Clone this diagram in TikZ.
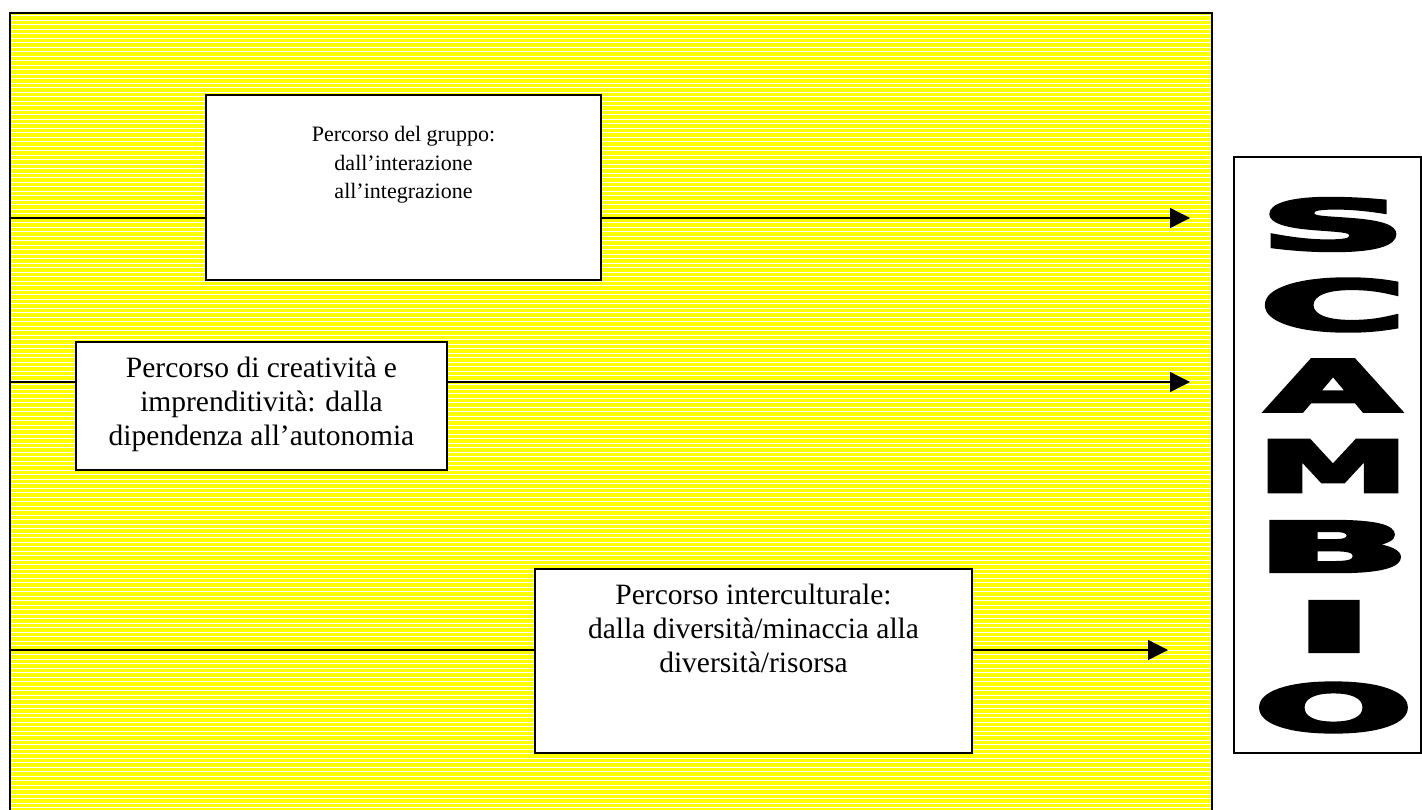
\documentclass[tikz,border=0pt]{standalone}
\usepackage{fontspec}
\usepackage{graphicx}
\setmainfont{Liberation Serif}
\newfontfamily\heavyfont[FakeBold=5]{DejaVu Sans Bold}
\usetikzlibrary{arrows.meta}
\definecolor{bgyellow}{RGB}{255,255,0}
\tikzset{
  framebox/.style={draw=black, line width=1.6pt, fill=white, inner sep=0pt},
  pathbox/.style={draw=black, line width=1.6pt, fill=white, inner sep=0pt},
  pathtext/.style={inner sep=0pt, align=center, anchor=north},
  bigtext/.style={font=\fontsize{29.5}{34}\selectfont},
  smalltext/.style={font=\fontsize{22}{28.5}\selectfont},
  flowarrow/.style={draw=black, line width=1.3pt, -{Triangle[length=20pt,width=20pt]}},
  letter/.style={inner sep=0pt}
}
\begin{document}
\begin{tikzpicture}[x=1pt,y=-1pt]
\useasboundingbox (0,0) rectangle (1422,809);
% striped yellow background
\fill[bgyellow] (10,13) rectangle (1212,812);
\foreach \i in {0,...,176} {
  \draw[white, line width=0.9pt] (11,15.5+4.5*\i) -- (1211,15.5+4.5*\i);
}
\draw[line width=2pt] (10,815) -- (10,13) -- (1212,13) -- (1212,815);
% arrow end points
\coordinate (s1) at (10,218);
\coordinate (e1) at (1190,218);
\coordinate (s2) at (10,382);
\coordinate (e2) at (1190,382);
\coordinate (s3) at (10,650);
\coordinate (e3) at (1168,650);
\draw[flowarrow] (s1) -- (e1);
\draw[flowarrow] (s2) -- (e2);
\draw[flowarrow] (s3) -- (e3);
% boxes
\node[pathbox, minimum width=395pt, minimum height=185pt] (b1) at (403.5,187.5) {};
\node[pathbox, minimum width=371pt, minimum height=128pt] (b2) at (261.5,406) {};
\node[pathbox, minimum width=437pt, minimum height=184pt] (b3) at (753.5,661) {};
\node[pathtext, smalltext] (t1) at ([yshift=-32pt]b1.north) {Percorso del gruppo:\\dall’interazione\\all’integrazione};
\node[pathtext, bigtext] (t2) at ([yshift=-16pt]b2.north) {Percorso di creatività e\\imprenditività: dalla\\dipendenza all’autonomia};
\node[pathtext, bigtext] (t3) at ([yshift=-16pt]b3.north) {Percorso interculturale:\\dalla diversità/minaccia alla\\diversità/risorsa};
% SCAMBIO box
\node[framebox, minimum width=187pt, minimum height=596pt] (sc) at (1327.5,455) {};
\node[letter] (lS) at (1333,224.5) {\resizebox*{146pt}{52pt}{\heavyfont S}};
\node[letter] (lC) at (1333,305) {\resizebox*{146pt}{52pt}{\heavyfont C}};
\node[letter] (lA) at (1333,385.5) {\resizebox*{132pt}{51pt}{\heavyfont A}};
\node[letter] (lM) at (1333,466) {\resizebox*{151pt}{51pt}{\heavyfont M}};
\node[letter] (lB) at (1333,546.5) {\resizebox*{154pt}{50pt}{\heavyfont B}};
\node[letter] (lI) at (1334,626.5) {\resizebox*{80pt}{50pt}{\heavyfont I}};
\node[letter] (lO) at (1333.5,707.5) {\resizebox*{158pt}{49pt}{\heavyfont O}};
\end{tikzpicture}
\end{document}
